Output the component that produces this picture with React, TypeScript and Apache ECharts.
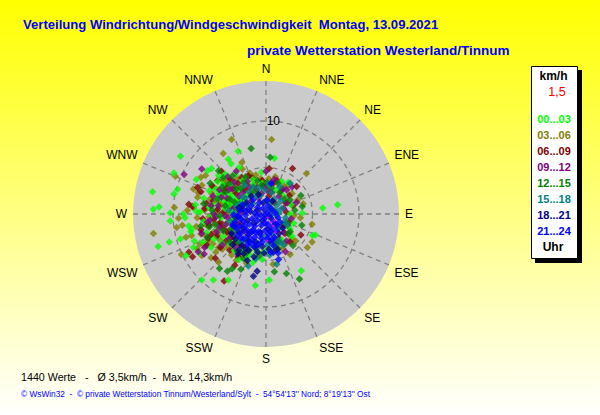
import React, { useEffect, useRef } from "react";
import * as echarts from "echarts";

const directions = ["N","NNE","NE","ENE","E","ESE","SE","SSE","S","SSW","SW","WSW","W","WNW","NW","NNW"];
const titleLine1 = "Verteilung Windrichtung/Windgeschwindigkeit  Montag, 13.09.2021";
const titleLine2 = "private Wetterstation Westerland/Tinnum";
const statsLine = "1440 Werte   -   Ø 3,5km/h  -  Max. 14,3km/h";
const footerLine = "© WsWin32  -  © private Wetterstation Tinnum/Westerland/Sylt  -  54°54'13'' Nord; 8°19'13'' Ost";
const hourLabels = ["00...03","03...06","06...09","09...12","12...15","15...18","18...21","21...24"];
const hourColors = ["#00ff00","#808000","#800000","#800080","#008000","#008080","#000080","#0000ff"];

// Each point: [east component, north component] in km/h.
const h00 = [[-9.2,6.2],[-12.2,2.4],[-12.1,0.5],[-11.5,0.75],[-11.6,-3.5],[-10.4,-3],[-10.3,-10.1],[-10.3,0.1],[-10.3,-0.75],[-9.9,4.4],[-9.5,2.65],[-9.9,2.15],[-8.9,0],[-8.7,-0.4],[-9.2,-2.7],[7.7,1],[6.1,0.65],[5.3,-2.25],[5,-2.3],[3.8,-6.1],[0.35,-7.1],[-1.15,-7.7],[-4.05,-7.1],[-5.65,-7.1],[-6.9,-7.1],[-3,6.75],[-4.05,5.9],[-3.75,5.4],[0.9,6],[-5.85,4.9],[-6.3,4.65],[-7.5,3.7],[-5.1,4.15],[-8,-1.6],[-8.1,-1.9],[-7.7,-2.9],[-7.8,-3.6],[-8.6,-4.5],[-7.5,0.3],[-7.6,1],[-6.1,2.5],[-5.4,2.7],[-5.1,2.2],[-4.6,1.5],[-4,2.2],[-3.6,3.2],[-3.2,1.6],[-4.4,0.6],[-3.9,1],[-3.5,0.3],[-4.8,-0.4],[-4.2,-1],[-3.7,-0.6],[-2.9,2.6],[-2.5,3.6],[-3.3,4.3],[-4.6,3.2],[-5.6,1],[-5.9,-0.2],[-5.2,-1.5],[-4.6,-2.4],[-6.4,-2],[-6.8,-3],[-7.1,-4.2],[-5.9,-3.6],[-1,-4],[-0.4,-4.9],[-1.8,-4.3],[-2.5,-3.9],[0.2,-3.7],[1,-3.4],[1.7,-2.8],[2.6,0],[3,-1],[1.7,3.5],[2.4,3.4],[-0.5,4.5],[-1.4,3.7],[-2.9,5],[3.9,0.1],[2.6,-1.6],[-6.7,-0.8],[-8.3,-1.3],[-4.1,1.6],[-3.7,1.9],[-4.3,1.2],[-3.4,1.1],[-3,0.9],[-4.9,2.1],[-5.4,1.7],[-3.6,-1.6],[-3.1,-2.8],[-3.9,-3.2],[-4.8,-3.1],[-5.6,-2.7],[-2.9,-4.9],[-2.1,-4.7],[-1.4,-5.2],[-0.3,-4.1],[-3.4,-3.9],[-6.1,0.7],[-6.7,1.7],[-7.1,0.2],[-5.2,3.5],[-4.4,4.3],[-2.1,2.1],[-2.6,1.5],[-1.4,3.2],[-0.4,3.3],[1.1,2.6],[1.9,1.9],[2.7,1],[2.8,-2.4]];
const h03 = [[0.6,8],[-3.7,8],[-4.6,6.5],[-2.6,5.55],[-6.5,4.15],[-7,3.95],[-9.75,4.05],[-12.1,-2.1],[-9.85,0.7],[-9.4,-0.45],[-9,-1.2],[-9.6,-1.45],[-8.45,0.4],[-9.1,-4.35],[-7.3,2.3],[-7.35,1.8],[-6.9,-4.45],[-7,-2.15],[-7.5,-1.35],[4.95,-1.1],[4.95,-3],[4.45,-3.6],[4.35,4.35],[4,1.1],[2.6,-4.35],[2.75,-2.65],[0.75,-5.4],[-2.1,-5.3],[-5.1,-5.2],[-5.4,-4.1],[-1.7,4.35],[-2.55,4.85],[-4.6,3.6],[-5.85,2.2],[-4.95,2.05],[-4.95,-2.8],[-5.6,-1.9],[-6.2,-1.3],[-6.6,0.4],[-6,1.6],[-5.3,0.3],[-4.8,1],[-4.3,2.8],[-3.4,2.4],[-3.1,3.8],[-2.1,3.2],[-1.1,4.2],[0.3,3.8],[-4.2,-3.5],[-3.7,-4.4],[-5.9,-4.7],[-6.6,-3.4],[-3.5,-3.2],[-4.1,-2.1],[-4.5,-1.2],[-3.9,0.1],[2.3,3],[3.4,1.5],[3.7,-0.4],[1.8,-3.7],[-7.8,0.7],[-8.6,-2.5],[-7.8,2.7],[-6.9,3.1],[-6.1,-0.3],[-5.5,-0.9],[-6.4,-2.4],[-5.2,-2.2],[-4.7,-3.8],[-3.2,-5],[-2.7,-4.4],[-5.6,2.9],[-5.1,1.2],[-4.1,3.6],[-3.8,1.4],[-2.9,1.4],[-2.4,2.7],[-1.5,2.6],[-0.6,3.8],[1,4],[1.9,3],[2.8,2.2],[3,-0.2],[2.4,-1.3],[2.1,-3.2],[3.2,-2.9],[-7.4,-0.4],[-6.2,-2.9],[-7.4,-3.7],[-4.4,0.2],[-3.3,-0.6],[-7.1,-3.2],[-6.5,-1.1],[-5.7,-3.2],[-5.1,-3.6],[-8,-2.3]];
const h06 = [[0.35,4.9],[2.85,4.9],[3.3,2.95],[-7.35,2.85],[-8.3,1.05],[-7.9,0.8],[-8.3,-4.1],[-7.9,-4.6],[-4.5,-7.2],[-5.45,-4.75],[-6.35,-3.35],[3.75,-2.25],[2.05,-2.1],[2.6,-3],[1.05,-3.5],[-3.35,-5.5],[-6.4,1.15],[-7,2.4],[-5.8,3],[-5.2,3.6],[-4.5,2.5],[-3.8,3.7],[-3,3.3],[-4.1,1.1],[-3.2,2.2],[-2.2,2.6],[-1.2,3.1],[-0.1,2.9],[0.8,3.3],[1.6,2.5],[2.5,2],[2.9,0.9],[-5.6,-0.5],[-4.9,-0.9],[-4.2,-1.9],[-3.4,-2.5],[-5.3,-2.4],[-3.9,-3.9],[-3,-4.6],[1.4,-2.6],[1.9,-1.2],[-2.5,0.9],[-3.1,0.4],[-2.8,-1],[0.3,1.9],[0.9,1.2],[-6.8,-0.5],[-1.9,4.1],[-4.8,4.6],[-5.7,1.4],[-5.2,0.5],[-6.1,-1.2],[-5.9,-2.2],[-4.6,-1.6],[-4.3,-2.9],[-4.9,-3.6],[-3.3,-3.1],[-2.4,-3.5],[-4.4,3.1],[-3.5,2.9],[-2.6,3.9],[-1.5,3.9],[-0.4,3.6],[0.6,2.4],[1.2,3.6],[2.1,1.2],[2.2,0.2],[2.5,-0.9],[-3.8,0.7],[-4.6,0.2],[-3.6,-1],[-6.6,0.6],[-7,-1.7],[-6.2,-2.6],[-5,-1.2],[-3.8,-2.5]];
const h09 = [[-8.8,4.25],[-6.9,4.85],[2.1,-4.05],[3.3,1.25],[2.3,1.2],[-6,-0.65],[-7.3,-4.05],[-6.65,-4.3],[-5.65,0.05],[-5.1,0.9],[-5,-1.4],[-4.4,-0.2],[-4.2,1.7],[-3.6,2.7],[-2.9,1.9],[-2,3.5],[-1,2.6],[0,4.6],[0.9,3.7],[2.2,2.6],[1.4,1.9],[1.9,0.6],[2.7,-0.5],[2.2,-2.9],[0.9,-2.8],[-3.9,-2.7],[-3.3,-3.6],[-4.7,-3.3],[-2.3,-1.8],[-1.6,1.4],[-2.6,0.2],[-3.2,-1.1],[-0.8,1.7],[0.2,2.5],[-5.7,1.9],[-3.2,4.6],[-4.1,4],[-5.4,-0.3],[-5.9,0.9],[-6.3,-0.9],[-5.3,-1.9],[-4.3,-1.1],[-3.7,-2.1],[-2.8,-3.3],[-5,2.6],[-4.8,1.8],[-4,2.6],[-3.4,3.4],[-2.5,2.3],[-1.8,2.9],[-0.3,3],[0.5,3.2],[1.8,2.7],[2.8,2.9],[-0.5,2.2],[1,-3.1],[1.9,-2],[-6.6,-3.6],[-6.9,-2.1],[-4.1,-0.4],[-3.4,0.7]];
const h12 = [[-1.6,7.05],[0.45,6.1],[-5.1,4.65],[-4.15,-6.15],[-5,-5.85],[-3.65,-5.9],[-2.7,-5.95],[0.9,-6.2],[2.2,-6.4],[3.6,-7],[3.75,2],[3.9,0.8],[3.85,-1.2],[-7,-1.3],[-6,3.3],[-4.6,3.9],[-3.6,4.1],[-2.2,4],[-0.9,3.6],[0.6,2.8],[1.3,3.3],[2,1.6],[3.1,0.4],[2.2,-0.9],[2.4,-2.1],[-2.4,-4.8],[-1.8,-3.9],[-3,-3.1],[-3.8,-1.6],[-4.4,0.9],[-3.4,1.3],[-2.7,2.8],[-1.6,2.2],[-0.5,3.1],[-5,-0.2],[-5.2,1.6],[-6.1,-1.4],[-6.3,-2.5],[1.4,-3],[2.9,-3.4],[-0.7,-4.5],[-4.7,2.9],[-4,3.2],[-3.2,2.7],[-2.4,3.4],[-1.1,2.4],[0.1,3.4],[1.5,2.3],[2.6,1.5],[2.6,-1.9],[1.3,-3.7],[-2.1,-4.2],[-3.1,-4],[-3.9,-3],[-4.6,-1.8],[-5.5,-1.1],[-5.8,0.4],[-3.9,1.6],[-4.4,2.3],[-6.7,1.1],[-3.4,-0.3]];
const h15 = [[2.6,3.3],[1.15,-5.4],[-1.9,-5.6],[1.6,-3.1],[0.8,-3.2],[-1,-3.7],[-1.8,-3.5],[0.7,0.3],[1.1,-0.1],[0.5,0.7],[0.9,1.6],[0.1,1.5],[-0.6,2],[-1.4,2.9],[-2.2,1.7],[-1.8,2.4],[-2.8,1.1],[-3.4,0.1],[-2.7,-0.5],[-3.2,-1.7],[-2.2,-2.8],[-1.4,1.1],[-0.8,2.8],[0.3,3.1],[1.5,2.9],[1.7,0.6],[2.1,-0.4],[1.4,-1.5],[0.7,-2.1],[0.2,-3.3],[1.2,1],[1.6,1.4],[-4,0.4],[-2.3,3.1],[-2.5,1.8],[-2.1,1],[-1,1.9],[0.4,1.1],[1,0.4],[1.4,0.1],[1.9,-0.9],[1.2,-2.7],[0,-2.4],[-0.8,-3.2],[-2.6,-3],[-3.5,-2.1],[-3.8,-0.8],[-3.2,0.8],[0.6,2.3],[-0.2,2.6],[1.9,-3.3],[2.3,-1.2],[0.4,-4.4],[-1.1,-4.8]];
const h18 = [[-0.95,-6.15],[-1.35,-6.7],[-3,-4.3],[-2.4,-4.25],[0.8,-4.1],[-2,-5],[-1.3,-4.6],[-0.2,-4.2],[-3.3,-2.7],[-2.6,-3.4],[-1.9,-2.9],[-1.1,-3],[-0.4,-3.5],[0.4,-2.9],[1.2,-3.8],[1.4,-2.1],[-2.5,-1.5],[-1.5,-1.9],[-0.6,-2],[0.2,-1.6],[-3,-0.3],[-2,-0.7],[-1.3,-1],[-0.4,-0.7],[0.5,-0.4],[-2.5,0.5],[-1.7,0.3],[-0.9,0.4],[-2.1,1.2],[-0.3,1.2],[0.7,1.4],[1,-1.1],[-3.4,-1.3],[-3.7,-2.1],[-1.9,-2.2],[-2.9,-2],[-1.9,-3.9],[-0.9,-4.1],[0.3,-3.8],[-3.6,-3.3],[-2.2,-3.7],[-1.2,-3.6],[1.8,-1.5],[-0.8,2.1],[-1.6,1.9],[-2.9,0.7],[-2.9,-3.9]];
const h21 = [[1.35,-4.9],[0.55,3.3],[0.8,-3.4],[0.1,-2.7],[-0.9,-3.3],[-1.7,-3],[-2.4,-2.7],[-3,-2.3],[-3.2,-1.5],[-2.6,-2],[-1.9,-2.4],[-1.2,-2.5],[-0.5,-2.6],[0.3,-2.2],[0.9,-2.5],[1.1,-1.8],[-3.3,-0.8],[-2.8,-1.3],[-2.1,-1.7],[-1.4,-1.7],[-0.8,-1.9],[-0.1,-1.8],[0.6,-1.5],[1.2,-1.2],[-3,-0.2],[-2.4,-0.8],[-1.8,-1.1],[-1.2,-1.3],[-0.5,-1.2],[0.2,-1.1],[0.8,-0.8],[1.3,-0.4],[-2.8,0.4],[-2.2,-0.1],[-1.5,-0.5],[-0.9,-0.7],[-0.2,-0.5],[0.4,-0.2],[1,0.1],[-2.5,1],[-1.9,0.5],[-1.2,0.1],[-0.6,-0.1],[0.1,0.2],[0.6,0.5],[-1.6,0.9],[-0.9,0.7],[-0.3,0.6],[0.2,0.9],[-1.4,1.5],[-0.7,1.2],[-2.1,0.3],[-2.7,-0.5],[-1,-0.2],[-0.1,-1],[-0.6,-2.2],[-1.7,-2],[-2.3,-1.3],[-1.1,-2],[0.5,-1.9],[-3.5,-0.1],[-1.5,-2.8],[-2,-3.3],[0.1,1.5],[-0.4,-3],[0.6,-2.8],[-1.3,-3.4],[-2.7,-2.6],[-3.6,-1.2],[1.5,-0.9],[-0.1,-0.1],[0.5,-4.1],[1.3,-4.2]];
const hMean = [[0.5,-0.9],[0.8,-1.3],[0.2,-0.4],[0.95,-0.7],[0.1,-2.9],[1,-2]];

const hourSeries = [h00, h03, h06, h09, h12, h15, h18, h21];
const hourLayers = [5, 3, 4, 6, 7, 8, 9, 10];

const toPolar = (p: number[]) => [
  Math.hypot(p[0], p[1]),
  (Math.atan2(p[0], p[1]) * 180 / Math.PI + 360) % 360,
];

const legendY = [119, 135, 151, 167, 183, 199, 215, 231];

export default function App() {
  const ref = useRef<HTMLDivElement>(null);
  useEffect(() => {
    document.body.style.margin = "0";
    const chart = echarts.init(ref.current!, undefined, { renderer: "svg" });
    const font = "'Liberation Sans', Arial, sans-serif";
    const series: any[] = hourSeries.map((d, i) => ({
      type: "scatter",
      coordinateSystem: "polar",
      name: hourLabels[i],
      symbol: "diamond",
      symbolSize: 7.5,
      itemStyle: { color: hourColors[i] },
      data: d.map(toPolar),
      z: hourLayers[i],
    }));
    series.push({
      type: "scatter",
      coordinateSystem: "polar",
      symbol: "diamond",
      symbolSize: 3,
      itemStyle: { color: "#ff00ff" },
      data: hMean.map(toPolar),
      z: 12,
    });
    chart.setOption({
      animation: false,
      backgroundColor: new echarts.graphic.LinearGradient(0, 0, 0, 1, [
        { offset: 0, color: "#ffff00" },
        { offset: 1, color: "#ffffff" },
      ]),
      polar: { center: [266, 214], radius: 133 },
      angleAxis: {
        type: "value",
        min: 0,
        max: 360,
        interval: 22.5,
        startAngle: 90,
        clockwise: true,
        axisLine: { show: false },
        axisTick: { show: false },
        splitLine: { show: true, lineStyle: { color: "#808080", type: [5, 4], width: 1.3 } },
        axisLabel: {
          margin: 6,
          color: "#000",
          fontFamily: font,
          fontSize: 12,
          formatter: (v: number) => directions[Math.round(v / 22.5) % 16],
        },
      },
      radiusAxis: {
        type: "value",
        min: 0,
        max: 14.3,
        interval: 5,
        axisLine: { show: false },
        axisTick: { show: false },
        axisLabel: {
          color: "#000",
          fontFamily: font,
          fontSize: 12,
          margin: -14,
          formatter: (v: number) => (v === 10 ? "10" : ""),
        },
        splitLine: { show: true, lineStyle: { color: ["#808080", "#808080", "#808080", "rgba(0,0,0,0)"], type: [5, 4], width: 1.3 } },
      },
      graphic: [
        { type: "circle", z: -1, shape: { cx: 266, cy: 214, r: 133 }, style: { fill: "#cbcbcb" } },
        { type: "text", x: 23, y: 18, style: { text: titleLine1, fill: "#0000ff", font: `bold 13.1px ${font}` } },
        { type: "text", x: 247, y: 43, style: { text: titleLine2, fill: "#0000ff", font: `bold 13.5px ${font}` } },
        { type: "rect", shape: { x: 535, y: 70, width: 47, height: 193 }, style: { fill: "#000" } },
        { type: "rect", shape: { x: 531.5, y: 66.5, width: 46, height: 192 }, style: { fill: "#fff", stroke: "#000", lineWidth: 1 } },
        { type: "text", x: 553.5, y: 76, style: { text: "km/h", fill: "#000", font: `bold 12px ${font}`, align: "center", verticalAlign: "middle" } },
        { type: "text", x: 557, y: 92, style: { text: "1,5", fill: "#ff0000", font: `12.5px ${font}`, align: "center", verticalAlign: "middle" } },
        ...hourLabels.map((t, i) => ({
          type: "text", x: 554, y: legendY[i],
          style: { text: t, fill: hourColors[i], font: `bold 11px ${font}`, align: "center", verticalAlign: "middle" },
        })),
        { type: "text", x: 553, y: 247, style: { text: "Uhr", fill: "#000", font: `bold 12px ${font}`, align: "center", verticalAlign: "middle" } },
        { type: "text", x: 21, y: 371, style: { text: statsLine, fill: "#000", font: `10.7px ${font}` } },
        { type: "text", x: 21, y: 390, style: { text: footerLine, fill: "#0000ff", font: `8.3px ${font}` } },
      ],
      series,
    });
    return () => chart.dispose();
  }, []);
  return <div ref={ref} style={{ width: 600, height: 415 }} />;
}
